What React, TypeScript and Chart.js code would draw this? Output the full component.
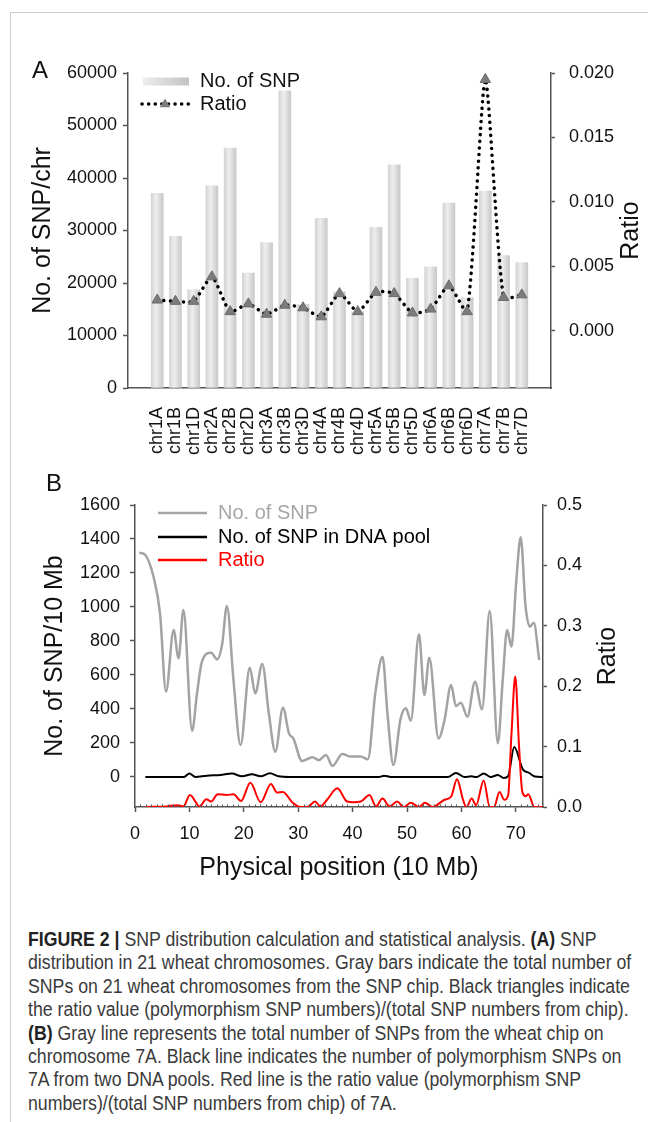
import React, { useEffect, useRef } from 'react';
import { Chart, registerables } from 'chart.js';

Chart.register(...registerables);

const FONT = '"Liberation Sans", Arial, Helvetica, sans-serif';

// ---------- Panel A data ----------
const chromosomes = ['chr1A', 'chr1B', 'chr1D', 'chr2A', 'chr2B', 'chr2D', 'chr3A', 'chr3B', 'chr3D', 'chr4A', 'chr4B', 'chr4D', 'chr5A', 'chr5B', 'chr5D', 'chr6A', 'chr6B', 'chr6D', 'chr7A', 'chr7B', 'chr7D'];
const snpCounts = [37100, 28900, 18700, 38500, 45700, 21900, 27700, 56600, 15900, 32300, 18300, 14500, 30600, 42500, 20900, 23100, 35200, 17200, 37500, 25200, 23900];
const polyRatio = [0.0024, 0.0023, 0.0023, 0.0042, 0.0015, 0.0021, 0.0013, 0.0020, 0.0018, 0.0011, 0.0029, 0.0015, 0.0030, 0.0029, 0.0014, 0.0017, 0.0035, 0.0015, 0.0195, 0.0026, 0.0028];
const snpTicksA = [0, 10000, 20000, 30000, 40000, 50000, 60000];
const ratioTicksA = [0, 0.005, 0.01, 0.015, 0.02];

// ---------- Panel B data ----------
const snpPos = [0.8, 1.9, 3.4, 4.6, 5.7, 7.1, 8.0, 8.9, 10.5, 11.4, 12.3, 14.0, 15.1, 16.0, 16.9, 18.1, 19.4, 21.1, 22.1, 23.4, 24.6, 25.8, 27.2, 28.3, 29.1, 30.7, 32.6, 33.8, 35.1, 36.3, 38.1, 39.7, 41.5, 42.8, 44.2, 45.5, 46.4, 47.5, 48.8, 49.8, 50.7, 52.2, 53.2, 54.1, 55.8, 56.9, 58.1, 59.0, 59.9, 61.1, 62.5, 63.8, 65.2, 66.7, 67.6, 68.4, 69.2, 70.1, 70.9, 71.8, 72.6, 73.3, 74.3];
const snpPer10Mb = [1320, 1306, 1178, 963, 502, 865, 698, 982, 272, 492, 678, 731, 692, 776, 1006, 571, 188, 643, 492, 665, 375, 149, 408, 257, 227, 94, 116, 100, 129, 65, 135, 120, 120, 104, 500, 708, 375, 71, 340, 404, 331, 839, 482, 702, 227, 335, 541, 418, 437, 355, 561, 398, 976, 198, 571, 865, 767, 1159, 1410, 1002, 884, 908, 688];
const poolPos = [1.9, 9.0, 10.0, 11.1, 13.2, 15.7, 17.8, 19.7, 21.5, 23.1, 24.8, 26.4, 28.5, 44.8, 45.8, 47.0, 57.5, 59.0, 60.6, 61.8, 62.8, 64.1, 65.4, 66.7, 67.8, 68.6, 69.7, 71.3, 72.4, 73.5, 75.0];
const poolSnp = [0, 0, 20, 0, 8, 12, 20, 4, 16, 4, 22, 4, 0, 0, 8, 0, 0, 24, 0, 4, 0, 20, 0, 12, -6, 5, 177, 45, 25, 3, 0];
const ratioPos = [1.9, 5.8, 7.7, 8.9, 10.1, 11.9, 13.1, 14.0, 15.2, 16.8, 18.1, 19.5, 21.2, 23.1, 25.0, 26.1, 27.2, 28.9, 30.4, 31.7, 33.1, 34.1, 35.3, 37.2, 39.0, 40.2, 41.5, 43.1, 44.3, 45.5, 46.8, 48.2, 49.4, 50.7, 52.2, 53.3, 54.7, 56.9, 58.1, 59.2, 60.3, 60.9, 61.9, 62.7, 64.1, 65.2, 66.0, 67.0, 67.9, 68.6, 69.2, 69.9, 70.6, 71.2, 71.8, 72.3, 73.4, 75.0];
const ratioB = [0, 0.001, 0.003, 0.001, 0.020, 0.001, 0.013, 0.009, 0.021, 0.020, 0.021, 0.010, 0.040, 0.008, 0.038, 0.024, 0.025, 0.008, 0, 0, 0.009, 0.001, 0.012, 0.031, 0.009, 0.008, 0.009, 0.020, 0.001, 0.014, 0.001, 0.009, 0, 0.007, 0, 0.007, 0, 0.012, 0.017, 0.046, 0.012, 0, 0.014, 0.003, 0.044, 0, 0, 0.025, 0.012, 0.02, 0.12, 0.216, 0.10, 0.025, 0.018, 0.021, 0, 0];
const snpTicksB = [0, 200, 400, 600, 800, 1000, 1200, 1400, 1600];
const ratioTicksB = [0, 0.1, 0.2, 0.3, 0.4, 0.5];
const posTicksB = [0, 10, 20, 30, 40, 50, 60, 70];

const captionLines: [string, string, string, string][] = [
  ['FIGURE 2 |', ' SNP distribution calculation and statistical analysis. ', '(A)', ' SNP'],
  ['', 'distribution in 21 wheat chromosomes. Gray bars indicate the total number of', '', ''],
  ['', 'SNPs on 21 wheat chromosomes from the SNP chip. Black triangles indicate', '', ''],
  ['', 'the ratio value (polymorphism SNP numbers)/(total SNP numbers from chip).', '', ''],
  ['(B)', ' Gray line represents the total number of SNPs from the wheat chip on', '', ''],
  ['', 'chromosome 7A. Black line indicates the number of polymorphism SNPs on', '', ''],
  ['', '7A from two DNA pools. Red line is the ratio value (polymorphism SNP', '', ''],
  ['', 'numbers)/(total SNP numbers from chip) of 7A.', '', ''],
];

const AXIS = '#555';
const TXT = '#111';

function drawText(ctx: CanvasRenderingContext2D, text: string, x: number, y: number, size: number, color: string, rot = 0, align: CanvasTextAlign = 'center') {
  ctx.save();
  ctx.translate(x, y);
  ctx.rotate(rot);
  ctx.font = `${size}px ${FONT}`;
  ctx.fillStyle = color;
  ctx.textAlign = align;
  ctx.textBaseline = 'middle';
  ctx.fillText(text, 0, 0);
  ctx.restore();
}

function drawTriangle(ctx: CanvasRenderingContext2D, x: number, y: number, r: number) {
  ctx.save();
  ctx.beginPath();
  ctx.moveTo(x, y - r);
  ctx.lineTo(x + r * 0.95, y + r * 0.6);
  ctx.lineTo(x - r * 0.95, y + r * 0.6);
  ctx.closePath();
  ctx.fillStyle = '#7c7c7c';
  ctx.fill();
  ctx.restore();
}

function PanelA() {
  const ref = useRef<HTMLCanvasElement>(null);
  useEffect(() => {
    const canvas = ref.current!;
    const barFill = (c: any) => {
      const chart = c.chart;
      const xs = chart.scales && chart.scales.x;
      if (!xs || c.dataIndex === undefined) return '#dcdcdc';
      const cx = xs.getPixelForValue(c.dataIndex);
      if (!Number.isFinite(cx)) return '#dcdcdc';
      const g = chart.ctx.createLinearGradient(cx - 6, 0, cx + 6, 0);
      g.addColorStop(0, '#d4d4d4');
      g.addColorStop(0.4, '#eeeeee');
      g.addColorStop(1, '#c8c8c8');
      return g;
    };
    const decor = {
      id: 'decorA',
      afterDraw(chart: any) {
        const ctx = chart.ctx as CanvasRenderingContext2D;
        drawText(ctx, 'A', 32, 31, 24, TXT, 0, 'left');
        const area = chart.chartArea;
        const midY = (area.top + area.bottom) / 2;
        drawText(ctx, 'No. of SNP/chr', 43, midY, 25, TXT, -Math.PI / 2);
        drawText(ctx, 'Ratio', 631, midY, 25, TXT, -Math.PI / 2);
        const g = ctx.createLinearGradient(143, 0, 189, 0);
        g.addColorStop(0, '#eeeeee');
        g.addColorStop(1, '#c2c2c2');
        ctx.fillStyle = g;
        ctx.fillRect(143, 37.5, 46, 8);
        drawText(ctx, 'No. of SNP', 200, 41, 20, TXT, 0, 'left');
        ctx.save();
        ctx.strokeStyle = '#000';
        ctx.lineWidth = 3.5;
        ctx.lineCap = 'round';
        ctx.setLineDash([0.1, 6.5]);
        ctx.beginPath();
        ctx.moveTo(142, 64);
        ctx.lineTo(189, 64);
        ctx.stroke();
        ctx.restore();
        drawTriangle(ctx, 165, 64, 5.5);
        drawText(ctx, 'Ratio', 200, 64, 20, TXT, 0, 'left');
      },
    };
    const chart = new Chart(canvas, {
      type: 'bar',
      data: {
        datasets: [
          {
            type: 'line', label: 'Ratio', yAxisID: 'y1', xAxisID: 'x', order: 1,
            data: polyRatio.map((v, i) => ({ x: i, y: v })),
            borderColor: '#000', borderWidth: 3.5, borderDash: [0.1, 6.5], borderCapStyle: 'round',
            tension: 0.2, pointStyle: 'triangle', pointRadius: 6,
            pointBackgroundColor: '#7c7c7c', pointBorderColor: '#6a6a6a', pointBorderWidth: 1,
          } as any,
          {
            type: 'bar', label: 'No. of SNP', yAxisID: 'y', xAxisID: 'x', order: 2,
            data: snpCounts.map((v, i) => ({ x: i, y: v })),
            backgroundColor: barFill, barThickness: 12, borderWidth: 0,
          } as any,
        ],
      },
      options: {
        animation: false, responsive: false, devicePixelRatio: 1,
        layout: { padding: { left: 0, right: 0, top: 33, bottom: 0 } },
        plugins: { legend: { display: false }, tooltip: { enabled: false } },
        scales: {
          x: {
            type: 'linear', min: -1.05, max: 21.05, bounds: 'data',
            afterBuildTicks: (s: any) => { s.ticks = chromosomes.map((_, i) => ({ value: i })); },
            afterFit: (s: any) => { s.height = 72; },
            grid: { display: false },
            border: { display: true, color: AXIS, width: 1.5 },
            ticks: {
              autoSkip: false, minRotation: 90, maxRotation: 90, padding: 11, color: TXT,
              font: { family: FONT, size: 18 },
              callback: (v: any) => chromosomes[v] ?? '',
            },
          },
          y: {
            position: 'left', min: 0, max: 60000, bounds: 'data',
            afterBuildTicks: (s: any) => { s.ticks = snpTicksA.map((v) => ({ value: v })); },
            afterFit: (s: any) => { s.width = 128; },
            grid: { display: true, drawOnChartArea: false, tickLength: 5, tickColor: AXIS, tickWidth: 1.5 },
            border: { display: true, color: AXIS, width: 1.5 },
            ticks: { padding: 6, color: TXT, font: { family: FONT, size: 18 }, callback: (v: any) => String(v) },
          },
          y1: {
            position: 'right', min: -0.00442, max: 0.02, bounds: 'data',
            afterBuildTicks: (s: any) => { s.ticks = ratioTicksA.map((v) => ({ value: v })); },
            afterFit: (s: any) => { s.width = 97; },
            grid: { display: true, drawOnChartArea: false, tickLength: 4, tickColor: AXIS, tickWidth: 1.5 },
            border: { display: true, color: AXIS, width: 1.5 },
            ticks: { padding: 14, color: TXT, font: { family: FONT, size: 18 }, callback: (v: any) => Number(v).toFixed(3) },
          },
        },
      } as any,
      plugins: [decor],
    });
    return () => chart.destroy();
  }, []);
  return <canvas ref={ref} width={648} height={420} style={{ position: 'absolute', left: 0, top: 40, width: 648, height: 420 }} />;
}

function PanelB() {
  const ref = useRef<HTMLCanvasElement>(null);
  useEffect(() => {
    const canvas = ref.current!;
    const decor = {
      id: 'decorB',
      afterDraw(chart: any) {
        const ctx = chart.ctx as CanvasRenderingContext2D;
        const area = chart.chartArea;
        const xs = chart.scales.x;
        ctx.save();
        ctx.strokeStyle = AXIS;
        ctx.lineWidth = 1;
        for (let i = 1; i < 75; i++) {
          if (i % 10 === 0) continue;
          const px = Math.round(xs.getPixelForValue(i)) + 0.5;
          ctx.beginPath();
          ctx.moveTo(px, area.bottom);
          ctx.lineTo(px, area.bottom - 2.5);
          ctx.stroke();
        }
        ctx.restore();
        drawText(ctx, 'B', 46, 24.5, 24, TXT, 0, 'left');
        const midY = (area.top + area.bottom) / 2;
        drawText(ctx, 'No. of SNP/10 Mb', 55, midY, 25, TXT, -Math.PI / 2);
        drawText(ctx, 'Ratio', 608, midY, 25, TXT, -Math.PI / 2);
        drawText(ctx, 'Physical position (10 Mb)', (area.left + area.right) / 2, 408, 25, TXT);
        const items: [string, string, number][] = [
          ['No. of SNP', '#a6a6a6', 53],
          ['No. of SNP in DNA pool', '#000', 77],
          ['Ratio', '#ff0000', 100],
        ];
        for (const [t, c, y] of items) {
          ctx.save();
          ctx.strokeStyle = c;
          ctx.lineWidth = 2.5;
          ctx.beginPath();
          ctx.moveTo(158, y);
          ctx.lineTo(207, y);
          ctx.stroke();
          ctx.restore();
          drawText(ctx, t, 218, y, 20, c, 0, 'left');
        }
      },
    };
    const chart = new Chart(canvas, {
      type: 'line',
      data: {
        datasets: [
          {
            label: 'Ratio', yAxisID: 'y1', order: 1,
            data: ratioPos.map((x, i) => ({ x, y: ratioB[i] })),
            borderColor: '#ff0000', borderWidth: 2, pointRadius: 0, cubicInterpolationMode: 'monotone',
          },
          {
            label: 'No. of SNP in DNA pool', yAxisID: 'y', order: 2,
            data: poolPos.map((x, i) => ({ x, y: poolSnp[i] })),
            borderColor: '#000', borderWidth: 2, pointRadius: 0, cubicInterpolationMode: 'monotone',
          },
          {
            label: 'No. of SNP', yAxisID: 'y', order: 3,
            data: snpPos.map((x, i) => ({ x, y: snpPer10Mb[i] })),
            borderColor: '#a3a3a3', borderWidth: 2.5, pointRadius: 0, cubicInterpolationMode: 'monotone',
          },
        ] as any,
      },
      options: {
        animation: false, responsive: false, devicePixelRatio: 1,
        layout: { padding: { left: 0, right: 0, top: 45, bottom: 0 } },
        plugins: { legend: { display: false }, tooltip: { enabled: false } },
        scales: {
          x: {
            type: 'linear', min: 0, max: 75, bounds: 'data',
            afterBuildTicks: (s: any) => { s.ticks = posTicksB.map((v) => ({ value: v })); },
            afterFit: (s: any) => { s.height = 93; },
            grid: { display: true, drawOnChartArea: false, tickLength: 5, tickColor: AXIS, tickWidth: 1.5 },
            border: { display: true, color: AXIS, width: 1.5 },
            ticks: { autoSkip: false, maxRotation: 0, padding: 11, color: TXT, font: { family: FONT, size: 18 }, callback: (v: any) => String(v) },
          },
          y: {
            position: 'left', min: -176.5, max: 1600, bounds: 'data',
            afterBuildTicks: (s: any) => { s.ticks = snpTicksB.map((v) => ({ value: v })); },
            afterFit: (s: any) => { s.width = 135; },
            grid: { display: true, drawOnChartArea: false, tickLength: 5, tickColor: AXIS, tickWidth: 1.5 },
            border: { display: true, color: AXIS, width: 1.5 },
            ticks: { padding: 10, color: TXT, font: { family: FONT, size: 18 }, callback: (v: any) => String(v) },
          },
          y1: {
            position: 'right', min: 0, max: 0.5, bounds: 'data',
            afterBuildTicks: (s: any) => { s.ticks = ratioTicksB.map((v) => ({ value: v })); },
            afterFit: (s: any) => { s.width = 105; },
            grid: { display: true, drawOnChartArea: false, tickLength: 4, tickColor: AXIS, tickWidth: 1.5 },
            border: { display: true, color: AXIS, width: 1.5 },
            ticks: { padding: 10, color: TXT, font: { family: FONT, size: 18 }, callback: (v: any) => Number(v).toFixed(1) },
          },
        },
      } as any,
      plugins: [decor],
    });
    return () => chart.destroy();
  }, []);
  return <canvas ref={ref} width={648} height={440} style={{ position: 'absolute', left: 0, top: 460, width: 648, height: 440 }} />;
}

export default function App() {
  return (
    <div style={{ position: 'absolute', left: 0, top: 0, width: 648, height: 1122, overflow: 'hidden', background: '#fff' }}>
      <div style={{ position: 'absolute', left: 10, top: 12, width: 638, height: 0, borderTop: '1.5px solid #cccccc' }} />
      <div style={{ position: 'absolute', left: 10, top: 12, width: 0, height: 1110, borderLeft: '1.5px solid #cccccc' }} />
      <PanelA />
      <PanelB />
      <div style={{ position: 'absolute', left: 28, top: 928, fontFamily: FONT, fontSize: 19.5, lineHeight: '23.4px', color: '#3a3a3a', transform: 'scaleX(0.908)', transformOrigin: '0 0' }}>
        {captionLines.map((l, i) => (
          <div key={i} style={{ whiteSpace: 'nowrap' }}>
            {l[0] && <b style={{ color: '#222' }}>{l[0]}</b>}
            {l[1]}
            {l[2] && <b style={{ color: '#222' }}>{l[2]}</b>}
            {l[3]}
          </div>
        ))}
      </div>
    </div>
  );
}
